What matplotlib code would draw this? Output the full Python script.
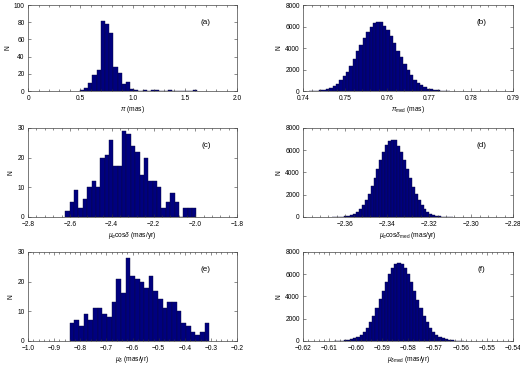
import numpy as np
import matplotlib
matplotlib.use('Agg')
import matplotlib.pyplot as plt
from matplotlib.ticker import AutoMinorLocator

plt.rcParams['font.family'] = ['Liberation Sans', 'DejaVu Sans']
plt.rcParams['mathtext.fontset'] = 'custom'
plt.rcParams['mathtext.rm'] = 'Liberation Sans'
plt.rcParams['mathtext.it'] = 'Liberation Sans:italic'

# (a) parallax of individual stars
a_lo, a_w = 0.496, 0.04
a_counts = [1, 3, 9, 19, 25, 81, 78, 67, 28, 21, 8, 11, 2, 1, 0, 1, 0, 1, 1, 0,
            0, 1, 0, 0, 0, 0, 0, 1]
a_xticks = [0, 0.5, 1.0, 1.5, 2.0]
a_xlabels = ['0', '0.5', '1.0', '1.5', '2.0']
a_yticks = [0, 20, 40, 60, 80, 100]

# (b) median parallax, MC
b_lo, b_w = 0.7414, 0.0008
b_counts = [8, 16, 45, 76, 125, 201, 313, 472, 692, 984, 1358, 1817, 2359, 2970,
            3690, 4280, 4950, 5540, 5940, 6300, 6390, 6400, 6060, 5660, 5100,
            4470, 3760, 3130, 2510, 1950, 1460, 1070, 760, 520, 350, 226, 142,
            86, 51, 29, 15, 8]
b_xticks = [0.74, 0.75, 0.76, 0.77, 0.78, 0.79]
b_xlabels = ['0.74', '0.75', '0.76', '0.77', '0.78', '0.79']

# (c) pm RA of individual stars
c_lo, c_w = -2.622, 0.0209
c_counts = [2, 5, 9, 3, 6, 10, 12, 10, 20, 21, 26, 17, 17, 29, 28, 24, 22, 14, 20,
            12, 12, 10, 3, 5, 8, 5, 0, 3, 3, 3]
c_xticks = [-2.8, -2.6, -2.4, -2.2, -2.0, -1.8]
c_xlabels = ['\u22122.8', '\u22122.6', '\u22122.4', '\u22122.2', '\u22122.0', '\u22121.8']
c_yticks = [0, 10, 20, 30]

# (d) median pm RA, MC
d_lo, d_w = -2.3661, 0.0014
d_counts = [4, 8, 15, 29, 55, 98, 170, 283, 453, 700, 1042, 1493, 2058, 2760,
            3490, 4310, 5100, 5850, 6420, 6850, 6920, 6880, 6380, 5800, 5090,
            4300, 3480, 2720, 2060, 1490, 1040, 700, 450, 283, 170, 98, 55, 29,
            15, 8, 4]
d_xticks = [-2.36, -2.34, -2.32, -2.30, -2.28]
d_xlabels = ['\u22122.36', '\u22122.34', '\u22122.32', '\u22122.30', '\u22122.28']

# (e) pm Dec of individual stars
e_lo, e_w = -0.841, 0.01783
e_counts = [6, 7, 5, 9, 7, 11, 11, 9, 8, 13, 21, 16, 28, 22, 21, 20, 18, 22, 17,
            14, 11, 13, 13, 10, 6, 5, 3, 2, 3, 6]
e_xticks = [-1.0, -0.9, -0.8, -0.7, -0.6, -0.5, -0.4, -0.3, -0.2]
e_xlabels = ['\u22121.0', '\u22120.9', '\u22120.8', '\u22120.7', '\u22120.6',
             '\u22120.5', '\u22120.4', '\u22120.3', '\u22120.2']

# (f) median pm Dec, MC
f_lo, f_w = -0.6081, 0.0012
f_counts = [6, 12, 24, 44, 78, 134, 224, 359, 557, 834, 1207, 1686, 2273, 2958,
            3740, 4510, 5300, 5990, 6540, 6900, 7000, 6950, 6560, 5980, 5280,
            4500, 3720, 2950, 2270, 1690, 1200, 834, 557, 359, 224, 134, 78, 44,
            24, 12, 6]
f_xticks = [-0.62, -0.61, -0.60, -0.59, -0.58, -0.57, -0.56, -0.55, -0.54]
f_xlabels = ['\u22120.62', '\u22120.61', '\u22120.60', '\u22120.59', '\u22120.58',
             '\u22120.57', '\u22120.56', '\u22120.55', '\u22120.54']

mc_yticks = [0, 2000, 4000, 6000, 8000]

fig = plt.figure(figsize=(5.2, 3.67), dpi=100)

def panel(pos, lo, w, counts, xlim, xticks, xlabels, yticks, xlab, tag):
    ax = fig.add_axes(pos)
    counts = np.array(counts)
    edges = lo + w * np.arange(len(counts))
    ax.bar(edges, counts, width=w, align='edge', color='#00007f',
           edgecolor='#0a0a40', linewidth=0.3)
    ax.set_xlim(xlim)
    ax.set_ylim(yticks[0], yticks[-1])
    ax.set_xticks(xticks)
    ax.set_xticklabels(xlabels)
    ax.set_yticks(yticks)
    ax.xaxis.set_minor_locator(AutoMinorLocator(5))
    ax.tick_params(which='both', direction='in', top=True, right=True,
                   labelsize=4.8, color='#333333', width=0.4)
    ax.tick_params(axis='x', pad=2.6)
    ax.tick_params(axis='y', pad=2.4)
    ax.tick_params(which='major', length=2.5)
    ax.tick_params(which='minor', length=1.2)
    for s in ax.spines.values():
        s.set_linewidth(0.5)
        s.set_color('#444444')
    ax.set_xlabel(xlab, fontsize=4.8, labelpad=1.5)
    ax.set_ylabel('N', fontsize=4.8, labelpad=2)
    ax.text(0.85, 0.8, tag, transform=ax.transAxes, fontsize=5.8,
            ha='center', va='center')
    return ax

L = [0.054, 0.402]
R = [0.583, 0.404]
rows = [(0.752, 0.234), (0.409, 0.2425), (0.071, 0.2425)]

panel([L[0], rows[0][0], L[1], rows[0][1]], a_lo, a_w, a_counts, (0, 2.0),
      a_xticks, a_xlabels, a_yticks, r'$\pi$ (mas)', '(a)')
panel([R[0], rows[0][0], R[1], rows[0][1]], b_lo, b_w, b_counts, (0.74, 0.79),
      b_xticks, b_xlabels, mc_yticks, r'$\pi_{\rm med}$ (mas)', '(b)')
panel([L[0], rows[1][0], L[1], rows[1][1]], c_lo, c_w, c_counts, (-2.8, -1.8),
      c_xticks, c_xlabels, c_yticks, r'$\mu_{\alpha}$cos$\delta$ (mas/yr)', '(c)')
panel([R[0], rows[1][0], R[1], rows[1][1]], d_lo, d_w, d_counts, (-2.38, -2.28),
      d_xticks, d_xlabels, mc_yticks,
      r'$\mu_{\alpha}$cos$\delta_{\rm med}$ (mas/yr)', '(d)')
panel([L[0], rows[2][0], L[1], rows[2][1]], e_lo, e_w, e_counts, (-1.0, -0.2),
      e_xticks, e_xlabels, c_yticks, r'$\mu_{\delta}$ (mas/yr)', '(e)')
panel([R[0], rows[2][0], R[1], rows[2][1]], f_lo, f_w, f_counts, (-0.62, -0.54),
      f_xticks, f_xlabels, mc_yticks, r'$\mu_{\delta\rm med}$ (mas/yr)', '(f)')

fig.savefig('out.png', dpi=100)
